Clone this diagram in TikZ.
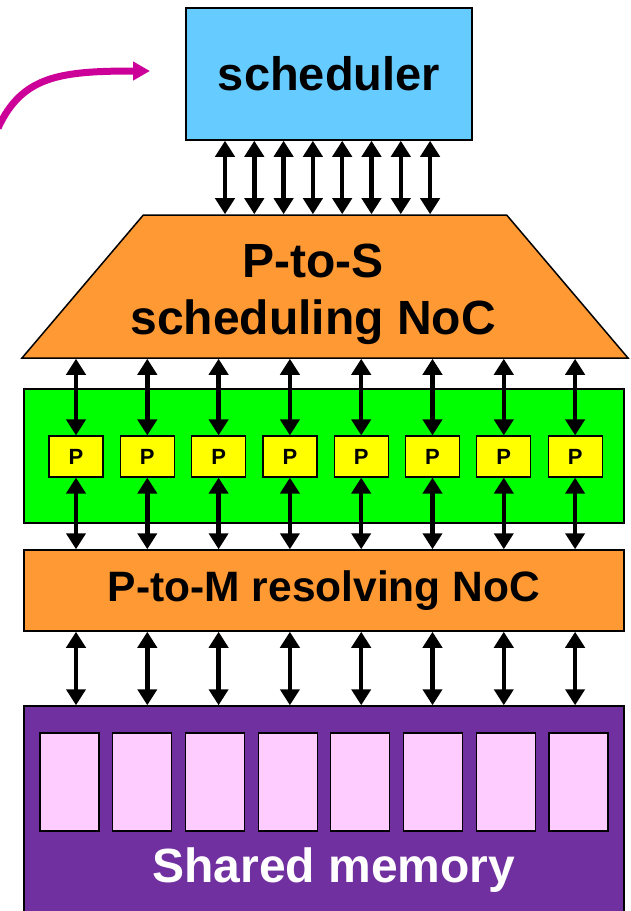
\documentclass[tikz,border=0pt]{standalone}
\usepackage{fontspec}
\setmainfont{Liberation Sans}
\usepackage{tikz}
\usetikzlibrary{shapes.geometric,arrows.meta,positioning,calc}
\definecolor{schedBlue}{HTML}{66CCFF}
\definecolor{nocOrange}{HTML}{FF9933}
\definecolor{procGreen}{HTML}{00FF00}
\definecolor{procYellow}{HTML}{FFFF00}
\definecolor{memPurple}{HTML}{7030A0}
\definecolor{bankPink}{HTML}{FFCCFF}
\definecolor{flowMagenta}{HTML}{CC0099}

\begin{document}
\begin{tikzpicture}[x=1pt, y=-1pt,
        blk/.style={draw=black, line width=1.5pt, inner sep=0pt, align=center,
          font=\bfseries\fontsize{47}{57}\selectfont},
        proc/.style={draw=black, line width=1.2pt, fill=procYellow, inner sep=0pt,
          minimum width=54pt, minimum height=41pt,
          font=\bfseries\fontsize{22}{24}\selectfont},
        bank/.style={draw=black, line width=1.2pt, fill=bankPink, inner sep=0pt,
          minimum width=59pt, minimum height=98pt},
        link/.style={line width=4.5pt,
          {Triangle[length=16pt,width=19pt]}-{Triangle[length=16pt,width=19pt]}},
      ]
        \useasboundingbox (0,0) rectangle (630,911);

        \node[blk, fill=nocOrange, trapezium, trapezium angle=44, trapezium stretches body,
          minimum width=606pt, minimum height=143pt, font=\bfseries\fontsize{48}{57}\selectfont]
          (pts) at (325,286.5) {\hspace*{-24pt}\rule{0pt}{50pt}P-to-S\\\hspace*{-24pt}scheduling NoC};
        \node[blk, fill=schedBlue, minimum width=286pt, minimum height=132pt] (sched) at (329,74) {scheduler};
        \node[blk, fill=procGreen, minimum width=600pt, minimum height=134pt] (procs) at (324,456) {};
        \node[blk, fill=nocOrange, minimum width=600pt, minimum height=81pt,
          font=\bfseries\fontsize{42.5}{48}\selectfont] (ptm) at (324,590.5) {P-to-M resolving NoC};
        \node[blk, fill=memPurple, minimum width=600pt, minimum height=210pt] (mem) at (324,811) {};
        \node[font=\bfseries\fontsize{48}{56}\selectfont, text=white] (memlbl) at (334,870) {Shared memory};

        \foreach \i in {1,...,8} {
          \node[proc] (p\i) at ({76+71.3*(\i-1)},456.5) {P};
          \node[bank] (bank\i) at ({69.5+72.7*(\i-1)},782) {};
        }

        % scheduler <-> P-to-S
        \foreach \i in {1,...,8}
          \draw[link] ({225+29.3*(\i-1)},0 |- sched.south) -- ({225+29.3*(\i-1)},0 |- pts.north);

        % processors <-> both NoCs, P-to-M <-> memory
        \foreach \i in {1,...,8} {
          \draw[link] (p\i |- pts.south) -- (p\i.north);
          \draw[link] (p\i.south) -- (p\i |- ptm.north);
          \draw[link] (p\i |- ptm.south) -- (p\i |- mem.north);
        }

        \coordinate (flowin) at (-2,128);
        \coordinate (flowout) at (150,71);
        \draw[flowMagenta, line width=7pt, -{Triangle[length=17pt,width=18pt]}]
          (flowin) .. controls (22,76) and (60,71) .. (flowout);
      \end{tikzpicture}
\end{document}
